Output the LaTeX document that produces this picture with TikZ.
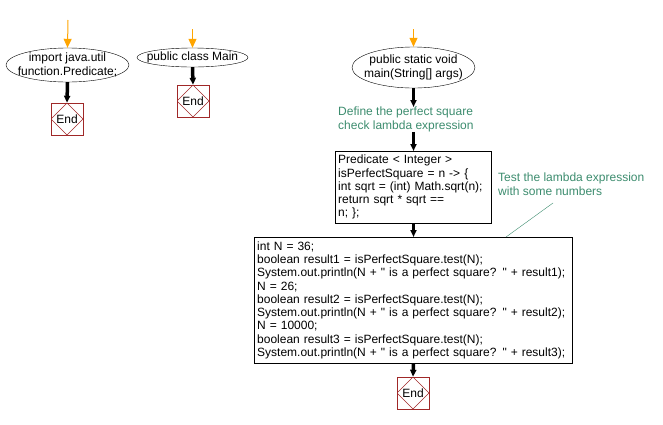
\documentclass[tikz,border=0pt]{standalone}
\usepackage{fontspec}
\setmainfont{Liberation Sans}[Ligatures=TeXOff]
\usetikzlibrary{arrows.meta,shapes.geometric}

\definecolor{startorange}{RGB}{255,165,0}
\definecolor{endred}{RGB}{160,40,40}
\definecolor{notegreen}{RGB}{60,140,110}

\tikzset{
  every node/.style={font=\fontsize{12}{13.3}\selectfont},
  startarrow/.style={draw=startorange,line width=1pt,-{Triangle[length=9pt,width=8pt]}},
  flowarrow/.style={draw=black,line width=3.5pt,-{Triangle[length=7pt,width=6pt]}},
  procname/.style={ellipse,draw,inner xsep=-30pt,inner ysep=-12pt,align=center},
  codebox/.style={rectangle,draw,inner sep=3pt,align=left,anchor=north west},
  endbox/.style={rectangle,draw=endred,minimum size=32pt,inner sep=0pt,
    path picture={\draw[endred] (path picture bounding box.north) -- (path picture bounding box.east)
      -- (path picture bounding box.south) -- (path picture bounding box.west) -- cycle;}},
  note/.style={text=notegreen,align=left,inner sep=0pt,anchor=north west},
}

\begin{document}
\begin{tikzpicture}[x=1pt,y=-1pt]
  \useasboundingbox (0,0) rectangle (663,424);

  % import
  \coordinate (s1) at (68,20);
  \node[procname,minimum width=123pt,minimum height=34pt] (imp) at (67.5,65) {import java.util\\function.Predicate;};
  \node[endbox] (end1) at (67,119) {End};
  \draw[startarrow] (s1) -- (imp.north);
  \draw[flowarrow] (imp.south) -- (end1.north);

  % class
  \coordinate (s2) at (192.5,29);
  \node[procname,minimum width=111pt,minimum height=19pt] (cls) at (192.5,57.5) {public class Main};
  \node[endbox] (end2) at (193,101) {End};
  \draw[startarrow] (s2) -- (cls.north);
  \draw[flowarrow] (cls.south) -- (end2.north);

  % main
  \coordinate (s3) at (413.5,29);
  \node[procname,minimum width=123pt,minimum height=41pt] (mainm) at (413.5,67.5) {public static void\\main(String[] args)};
  \node[note] (cmt1) at (338,107) {Define the perfect square\\check lambda expression};
  \node[codebox,text width=150pt,minimum height=72pt] (pred) at (335,151)
    {Predicate < Integer >\\isPerfectSquare = n -> \{\\int sqrt = (int) Math.sqrt(n);\\return sqrt * sqrt ==\\n; \};};
  \node[note] (cmt2) at (498,173) {Test the lambda expression\\with some numbers};
  \node[codebox,text width=312pt,minimum height=126pt] (test) at (254,237)
    {int N = 36;\\boolean result1 = isPerfectSquare.test(N);\\System.out.println(N + " is a perfect square? " + result1);\\N = 26;\\boolean result2 = isPerfectSquare.test(N);\\System.out.println(N + " is a perfect square? " + result2);\\N = 10000;\\boolean result3 = isPerfectSquare.test(N);\\System.out.println(N + " is a perfect square? " + result3);};
  \node[endbox] (end3) at (413,393) {End};
  \coordinate (c2) at (553,203);

  \draw[startarrow] (s3) -- (mainm.north);
  \draw[flowarrow] (mainm.south) -- (mainm.south |- cmt1.north);
  \draw[flowarrow] (mainm.south |- cmt1.south) -- (mainm.south |- pred.north);
  \draw[flowarrow] (mainm.south |- pred.south) -- (mainm.south |- test.north);
  \draw[flowarrow] (mainm.south |- test.south) -- (end3.north);
  \draw[notegreen] (c2) -- (test.north -| 506,0);
\end{tikzpicture}
\end{document}
